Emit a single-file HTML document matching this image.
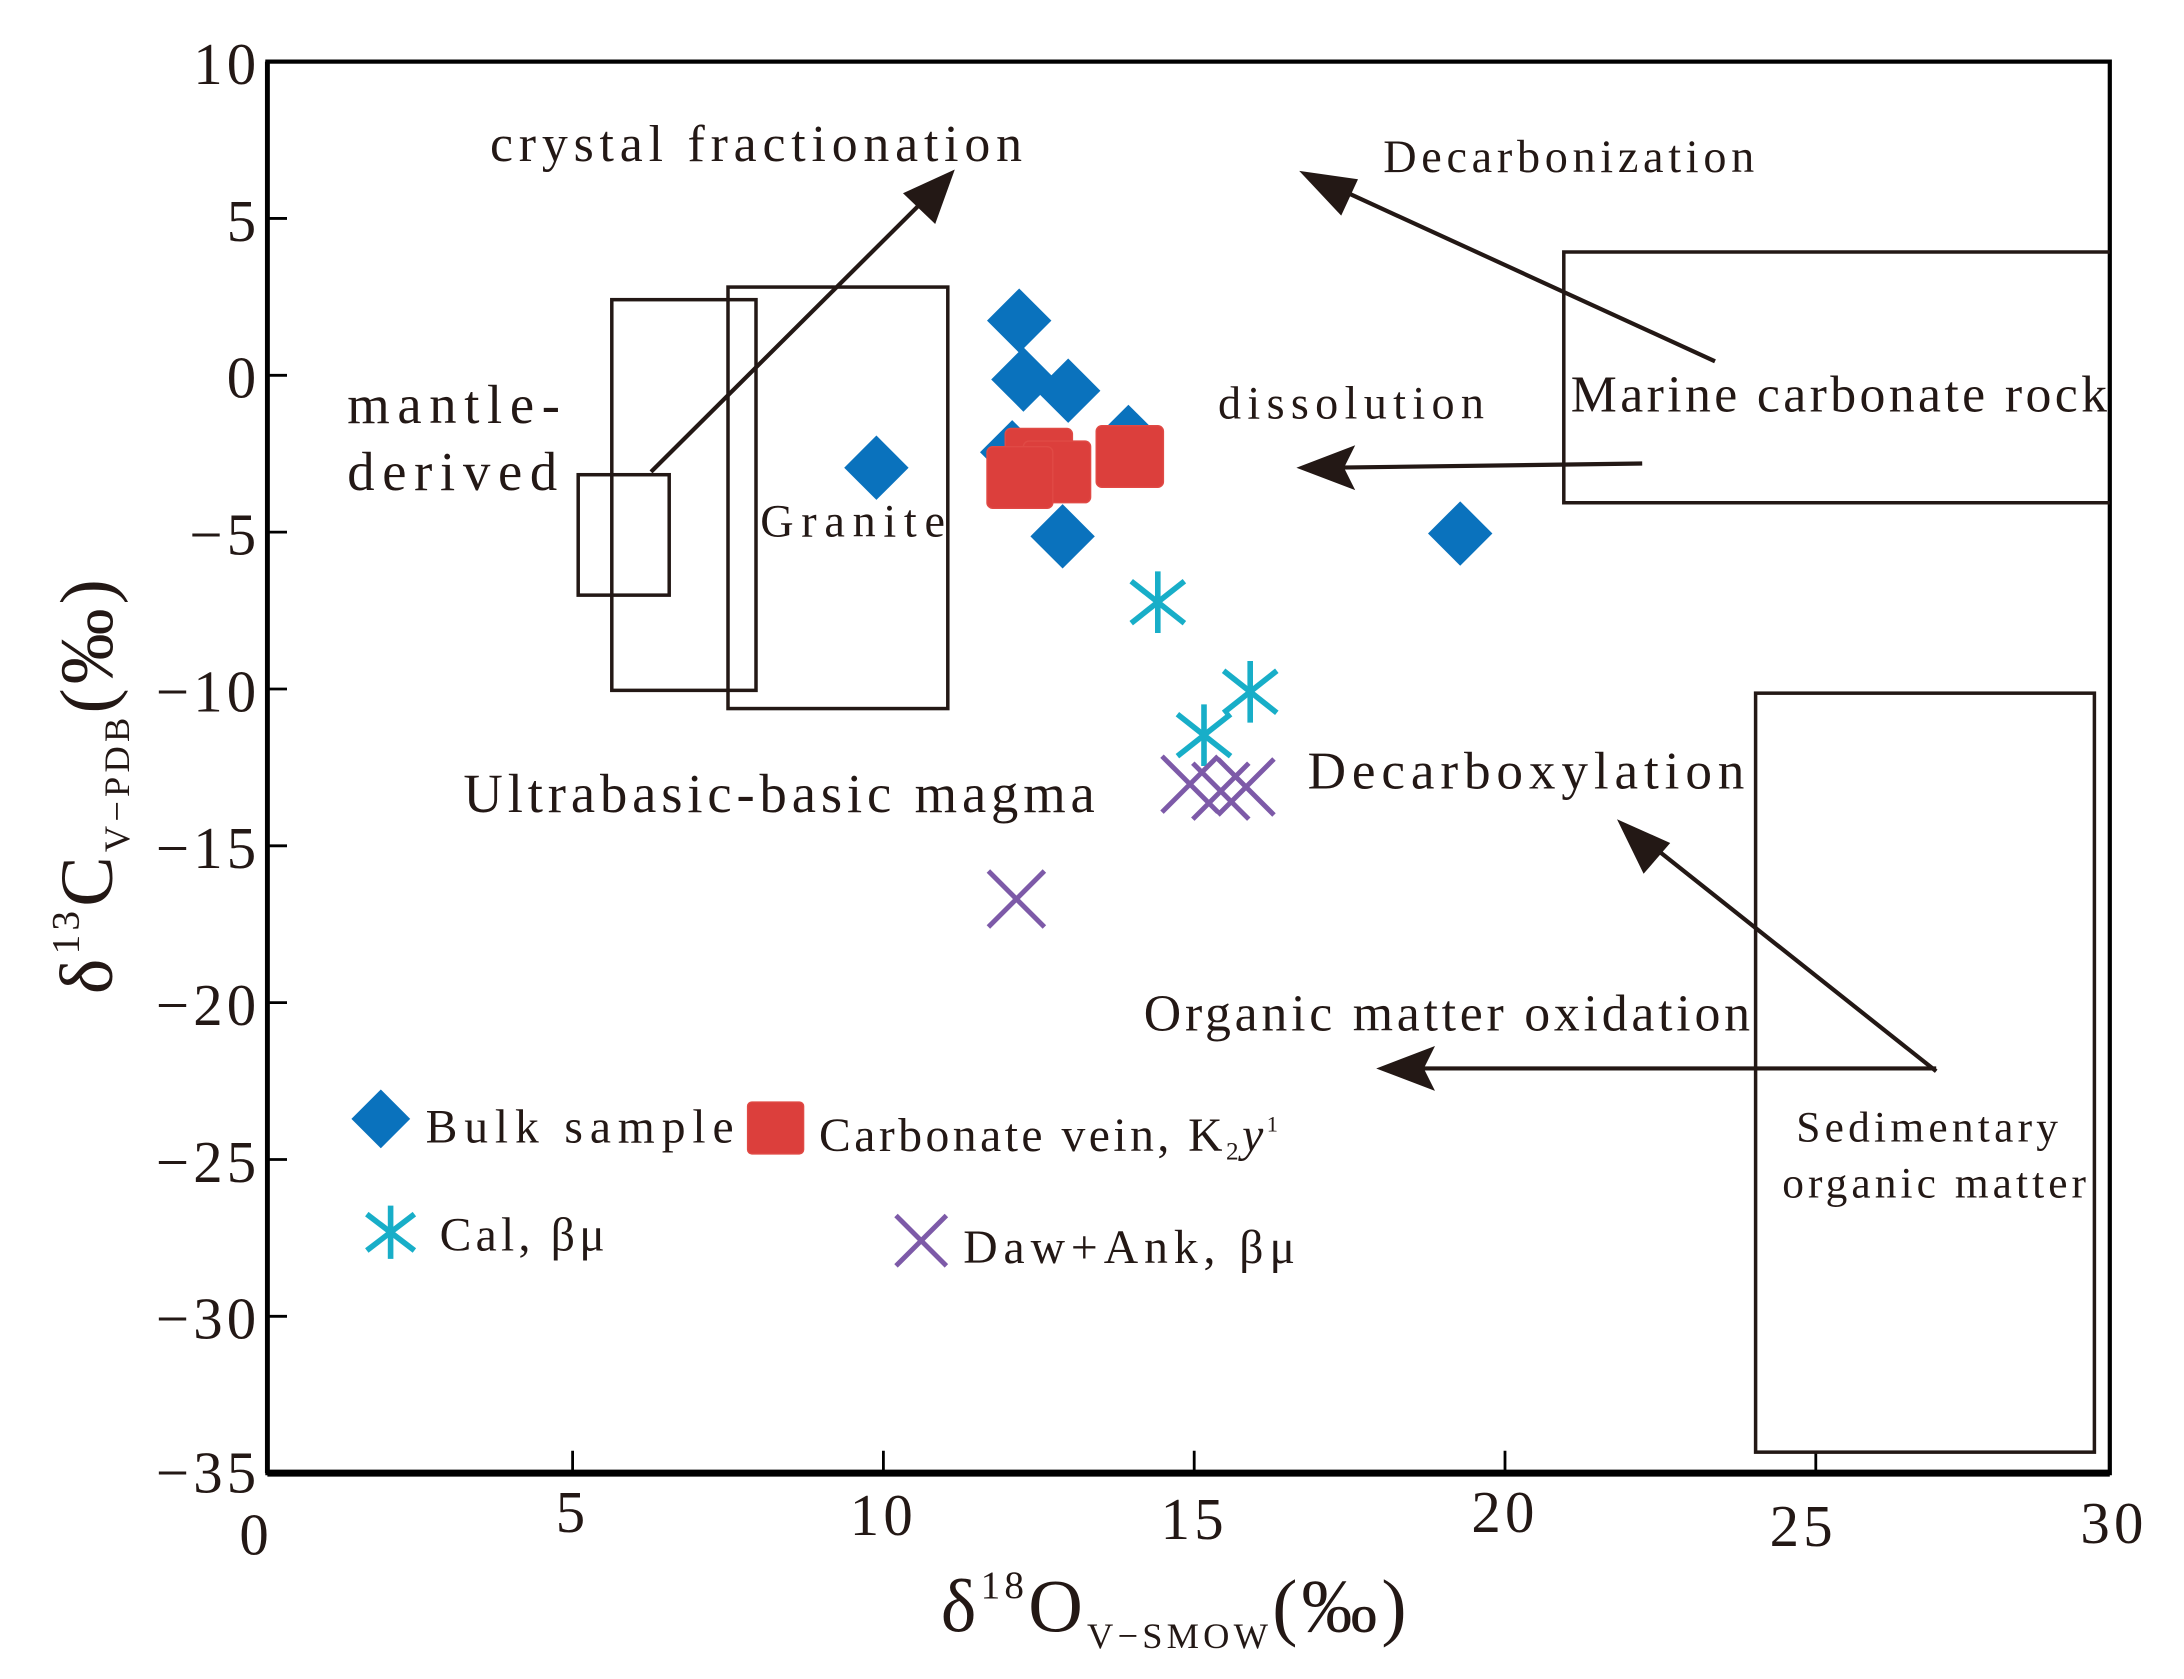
<!DOCTYPE html>
<html><head><meta charset="utf-8"><style>
html,body{margin:0;padding:0;background:#fff;}
svg{display:block;}
text{font-family:"Liberation Serif",serif;fill:#231815;}
</style></head><body>
<svg width="2184" height="1679" viewBox="0 0 1560 1199" preserveAspectRatio="none" xmlns="http://www.w3.org/2000/svg">
<rect x="0" y="0" width="1560" height="1199" fill="#fff"/>
<rect x="191" y="44" width="1316" height="1008" fill="none" stroke="#000" stroke-width="3"/>
<line x1="191" y1="1052" x2="1507" y2="1052" stroke="#000" stroke-width="5"/>
<line x1="191" y1="44" x2="191" y2="1052" stroke="#000" stroke-width="3.5"/>
<g stroke="#000" stroke-width="2">
<line x1="191" y1="156" x2="205" y2="156"/><line x1="191" y1="268" x2="205" y2="268"/>
<line x1="191" y1="380" x2="205" y2="380"/><line x1="191" y1="492" x2="205" y2="492"/>
<line x1="191" y1="604" x2="205" y2="604"/><line x1="191" y1="716" x2="205" y2="716"/>
<line x1="191" y1="828" x2="205" y2="828"/><line x1="191" y1="940" x2="205" y2="940"/>
<line x1="409" y1="1052" x2="409" y2="1036"/><line x1="631" y1="1052" x2="631" y2="1036"/>
<line x1="853" y1="1052" x2="853" y2="1036"/><line x1="1075" y1="1052" x2="1075" y2="1036"/>
<line x1="1297" y1="1052" x2="1297" y2="1036"/>
</g>
<g font-size="42" text-anchor="end" letter-spacing="3">
<text x="186" y="60">10</text><text x="186" y="172">5</text><text x="186" y="284">0</text>
<text x="186" y="396">−5</text><text x="186" y="508">−10</text><text x="186" y="620">−15</text>
<text x="186" y="732">−20</text><text x="186" y="844">−25</text><text x="186" y="956">−30</text>
<text x="186" y="1066">−35</text>
</g>
<g font-size="42" text-anchor="middle" letter-spacing="3">
<text x="183" y="1110">0</text><text x="409" y="1094">5</text><text x="631" y="1096">10</text>
<text x="853" y="1099">15</text><text x="1075" y="1094">20</text><text x="1288" y="1104">25</text>
<text x="1510" y="1102">30</text>
</g>
<text x="672" y="1165" font-size="54" letter-spacing="3">δ<tspan font-size="28" dy="-24">18</tspan><tspan dy="24">O</tspan><tspan font-size="26" dy="12">V−SMOW</tspan><tspan dy="-12">(‰)</tspan></text>
<text transform="translate(80,710) rotate(-90)" font-size="54" letter-spacing="3">δ<tspan font-size="28" dy="-24">13</tspan><tspan dy="24">C</tspan><tspan font-size="26" dy="12">V−PDB</tspan><tspan dy="-12">(‰)</tspan></text>
<g fill="none" stroke="#231815" stroke-width="2.5">
<rect x="413" y="339" width="65" height="86"/>
<rect x="437" y="214" width="103" height="279"/>
<rect x="520" y="205" width="157" height="301"/>
<polyline points="1507,180 1117,180 1117,359 1507,359"/>
<rect x="1254" y="495" width="242" height="542"/>
</g>
<g stroke="#231815" stroke-width="3" fill="none">
<line x1="465" y1="337" x2="665" y2="138"/>
<line x1="1225" y1="258" x2="950" y2="132"/>
<line x1="1173" y1="331" x2="950" y2="334"/>
<line x1="1383" y1="765" x2="1175" y2="600"/>
<line x1="1383" y1="763" x2="1005" y2="763"/>
</g>
<g fill="#231815">
<polygon points="682,121 668,160 645,138"/>
<polygon points="928,122 970,128 958,154"/>
<polygon points="926,334 968,318 960,334 968,350"/>
<polygon points="1155,585 1193,602 1174,624"/>
<polygon points="983,763 1025,747 1017,763 1025,779"/>
</g>
<text x="350" y="115" font-size="37" textLength="380" lengthAdjust="spacing">crystal fractionation</text>
<text x="988" y="123" font-size="33" textLength="265" lengthAdjust="spacing">Decarbonization</text>
<text x="248" y="302" font-size="39" textLength="152" lengthAdjust="spacing">mantle-</text>
<text x="248" y="350" font-size="39" textLength="150" lengthAdjust="spacing">derived</text>
<text x="543" y="383" font-size="33" textLength="132" lengthAdjust="spacing">Granite</text>
<text x="870" y="299" font-size="33" textLength="190" lengthAdjust="spacing">dissolution</text>
<text x="1122" y="294" font-size="37" textLength="383" lengthAdjust="spacing">Marine carbonate rock</text>
<text x="331" y="580" font-size="39" textLength="451" lengthAdjust="spacing">Ultrabasic-basic magma</text>
<text x="934" y="563" font-size="38" textLength="312" lengthAdjust="spacing">Decarboxylation</text>
<text x="817" y="736" font-size="37" textLength="433" lengthAdjust="spacing">Organic matter oxidation</text>
<text x="1283" y="815" font-size="31" textLength="187" lengthAdjust="spacing">Sedimentary</text>
<text x="1273" y="855" font-size="31" textLength="217" lengthAdjust="spacing">organic matter</text>
<g fill="#0a72bd">
<polygon points="728,206 751,229 728,252 705,229"/>
<polygon points="731,248 754,271 731,294 708,271"/>
<polygon points="763,256 786,279 763,302 740,279"/>
<polygon points="723,300 746,323 723,346 700,323"/>
<polygon points="806,289 829,312 806,335 783,312"/>
<polygon points="626,311 649,334 626,357 603,334"/>
<polygon points="759,360 782,383 759,406 736,383"/>
<polygon points="1043,358 1066,381 1043,404 1020,381"/>
<polygon points="272,778 293,799 272,820 251,799"/>
</g>
<g fill="#dc3f3c" stroke="#e04a45" stroke-width="1">
<rect x="718" y="306" width="48" height="44" rx="4"/>
<rect x="731" y="315" width="48" height="44" rx="4"/>
<rect x="705" y="319" width="47" height="44" rx="4"/>
<rect x="783" y="304" width="48" height="44" rx="4"/>
<rect x="534" y="787" width="40" height="37" rx="3"/>
</g>
<g stroke="#18aec8" stroke-width="4">
<g transform="translate(827,430)"><line x1="0" y1="-22" x2="0" y2="22"/><line x1="-19" y1="-15" x2="19" y2="15"/><line x1="-19" y1="15" x2="19" y2="-15"/></g>
<g transform="translate(893,494)"><line x1="0" y1="-22" x2="0" y2="22"/><line x1="-19" y1="-15" x2="19" y2="15"/><line x1="-19" y1="15" x2="19" y2="-15"/></g>
<g transform="translate(860,525)"><line x1="0" y1="-22" x2="0" y2="22"/><line x1="-19" y1="-15" x2="19" y2="15"/><line x1="-19" y1="15" x2="19" y2="-15"/></g>
<g transform="translate(279,880)"><line x1="0" y1="-19" x2="0" y2="19"/><line x1="-17" y1="-13" x2="17" y2="13"/><line x1="-17" y1="13" x2="17" y2="-13"/></g>
</g>
<g stroke="#7d5aa8" stroke-width="3.5">
<g transform="translate(850,560)"><line x1="-20" y1="-20" x2="20" y2="20"/><line x1="-20" y1="20" x2="20" y2="-20"/></g>
<g transform="translate(872,565)"><line x1="-20" y1="-20" x2="20" y2="20"/><line x1="-20" y1="20" x2="20" y2="-20"/></g>
<g transform="translate(890,562)"><line x1="-20" y1="-20" x2="20" y2="20"/><line x1="-20" y1="20" x2="20" y2="-20"/></g>
<g transform="translate(726,642)"><line x1="-20" y1="-20" x2="20" y2="20"/><line x1="-20" y1="20" x2="20" y2="-20"/></g>
<g transform="translate(658,886)"><line x1="-18" y1="-18" x2="18" y2="18"/><line x1="-18" y1="18" x2="18" y2="-18"/></g>
</g>
<text x="304" y="816" font-size="34" textLength="220" lengthAdjust="spacing">Bulk  sample</text>
<text x="585" y="822" font-size="34" letter-spacing="2.5">Carbonate  vein, K<tspan font-size="18" dy="6">2</tspan><tspan dy="-6" font-style="italic">y</tspan><tspan font-size="16" dy="-14">1</tspan></text>
<text x="314" y="893" font-size="34" textLength="118" lengthAdjust="spacing">Cal, βμ</text>
<text x="688" y="902" font-size="34" textLength="237" lengthAdjust="spacing">Daw+Ank, βμ</text>
</svg>
</body></html>
